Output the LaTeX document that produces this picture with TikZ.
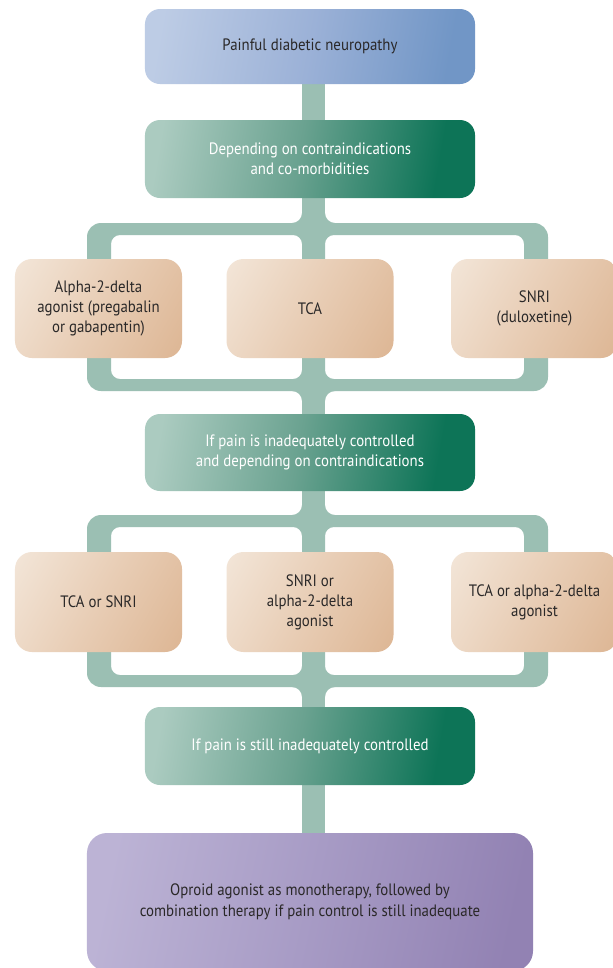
\documentclass[tikz,border=0pt]{standalone}
\usepackage{fontspec}
\setmainfont{PT Sans}[FakeStretch=0.9]
\usetikzlibrary{backgrounds,calc}
\definecolor{pipec}{HTML}{9BBFB3}
\definecolor{blueA}{HTML}{BDCCE5}
\definecolor{blueM}{HTML}{9BB1D7}
\definecolor{blueB}{HTML}{7196C6}
\definecolor{greenA}{HTML}{ABCBC0}
\definecolor{greenM}{HTML}{6AA290}
\definecolor{greenB}{HTML}{0D7457}
\definecolor{orA}{HTML}{F2E4D6}
\definecolor{orM}{HTML}{E8CDB5}
\definecolor{orB}{HTML}{DDB694}
\definecolor{puA}{HTML}{BCB3D5}
\definecolor{puM}{HTML}{A79BC5}
\definecolor{puB}{HTML}{9282B3}
\definecolor{txt}{HTML}{2A2828}
\pgfdeclarehorizontalshading{blueshade}{100bp}{color(0bp)=(blueA); color(24bp)=(blueA); color(50bp)=(blueM); color(74bp)=(blueB); color(100bp)=(blueB)}
\pgfdeclarehorizontalshading{greenshade}{100bp}{color(0bp)=(greenA); color(24bp)=(greenA); color(48bp)=(greenM); color(72bp)=(greenB); color(100bp)=(greenB)}
\pgfdeclarehorizontalshading{orangeshade}{100bp}{color(0bp)=(orA); color(18bp)=(orA); color(50bp)=(orM); color(84bp)=(orB); color(100bp)=(orB)}
\pgfdeclarehorizontalshading{purpleshade}{100bp}{color(0bp)=(puA); color(24bp)=(puA); color(50bp)=(puM); color(76bp)=(puB); color(100bp)=(puB)}
\newcommand{\pipefillet}[4]{\fill[pipe] ({#1+#3},#2) .. controls ({#1+0.448*#3},#2) and (#1,{#2+0.448*#4}) .. (#1,{#2+#4}) -- (#1,#2) -- cycle;}
\newcommand{\pipebracket}[2]{%
  \fill[pipe, even odd rule] [rounded corners=14bp] (87,#1) rectangle (548,#2)
    [rounded corners=9bp] (111,{#1+12}) rectangle (302,{#2-12})
    (325,{#1+12}) rectangle (524,{#2-12});
  \pipefillet{302}{#1}{(-10)}{(-10)}
  \pipefillet{325}{#1}{10}{(-10)}
  \pipefillet{302}{#2}{(-10)}{10}
  \pipefillet{325}{#2}{10}{10}
}
\tikzset{
  pipe/.style={fill=pipec},
  box/.style={rounded corners=15bp, minimum width=330bp, minimum height=78bp,
    align=center, inner sep=0pt, text=txt,
    font=\fontsize{16.5bp}{20.5bp}\selectfont},
  topbox/.style={box, minimum height=75bp, shade, shading=blueshade, shading angle=-10},
  greenbox/.style={box, shade, shading=greenshade, shading angle=-10, text=white},
  drugbox/.style={box, rounded corners=17bp, minimum width=167bp, minimum height=99bp,
    font=\fontsize{16.5bp}{20bp}\selectfont, shade, shading=orangeshade, shading angle=-30},
  endbox/.style={box, rounded corners=20bp, minimum width=446bp, minimum height=138bp,
    shade, shading=purpleshade, shading angle=-12},
}
\begin{document}
\begin{tikzpicture}[x=1bp, y=-1bp]
\useasboundingbox (0,0) rectangle (613,968);
\node[topbox] (top) at (310,46.5) {Painful diabetic neuropathy};
\node[greenbox] (g1) at (310,159) {Depending on contraindications\\and co-morbidities};
\node[drugbox] (r1a) at (98.5,308.5) {Alpha-2-delta\\agonist (pregabalin\\or gabapentin)};
\node[drugbox] (r1b) at (310,308.5) {TCA};
\node[drugbox] (r1c) at (534.5,308.5) {SNRI\\(duloxetine)};
\node[greenbox, minimum height=77bp] (g2) at (310,452.5) {If pain is inadequately controlled\\and depending on contraindications};
\node[drugbox, minimum height=100bp] (r2a) at (98.5,602) {TCA or SNRI};
\node[drugbox, minimum height=100bp] (r2b) at (310,602) {SNRI or\\alpha-2-delta\\agonist};
\node[drugbox, minimum height=100bp] (r2c) at (534.5,602) {TCA or alpha-2-delta\\agonist};
\node[greenbox] (g3) at (310,746) {If pain is still inadequately controlled};
\node[endbox] (end) at (310,902) {Oproid agonist as monotherapy, followed by\\combination therapy if pain control is still inadequate};
\begin{scope}[on background layer]
  \fill[white] (0,0) rectangle (613,968);
  \fill[pipe] ($(top.south)+(-8,0)$) rectangle ($(g1.north)+(15,0)$);
  \fill[pipe] ($(g1.south)+(-8,0)$) rectangle ($(g2.north)+(15,0)$);
  \fill[pipe] ($(g2.south)+(-8,0)$) rectangle ($(g3.north)+(15,0)$);
  \fill[pipe] ($(g3.south)+(-8,0)$) rectangle ($(end.north)+(15,0)$);
  \pipebracket{223}{391}
  \pipebracket{515}{687}
\end{scope}
\end{tikzpicture}
\end{document}
